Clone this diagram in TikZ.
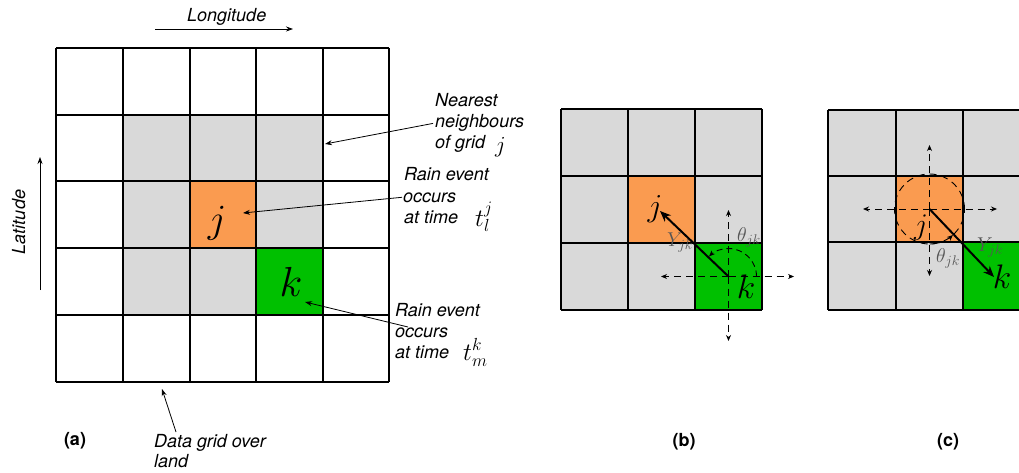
\RequirePackage{fix-cm}
\documentclass[tikz,border=0pt]{standalone}
\usepackage{fontspec}
\setsansfont{TeX Gyre Heros}
\usetikzlibrary{arrows.meta}
\definecolor{cellgray}{RGB}{217,217,217}
\definecolor{cellorange}{RGB}{250,155,80}
\definecolor{cellgreen}{RGB}{0,192,0}
\definecolor{labgray}{RGB}{85,85,85}
\tikzset{
  gridline/.style={line width=1.7pt,black},
  annot/.style={font=\sffamily\itshape\fontsize{18}{21}\selectfont,inner sep=0pt,anchor=base west},
  annotmath/.style={inner sep=0pt,anchor=base west,font=\fontsize{25}{25}\selectfont},
  pointer/.style={line width=0.8pt,-{Stealth[length=7pt,width=5pt]}},
  dasharrow/.style={line width=0.9pt,dash pattern=on 7pt off 5pt,-{Stealth[length=6pt,width=5pt]}},
  dasharc/.style={line width=0.9pt,dash pattern=on 6pt off 4pt,-{Stealth[length=6pt,width=5pt]}},
  dashcirc/.style={line width=0.9pt,dash pattern=on 7pt off 5pt},
  mainarrow/.style={line width=2pt,-{Stealth[length=11pt,width=9pt]}},
  panellabel/.style={font=\sffamily\bfseries\fontsize{18}{21}\selectfont,inner sep=0pt,anchor=base},
  cellmath/.style={inner sep=0pt},
  smallmath/.style={inner sep=0pt,text=labgray,font=\fontsize{20}{20}\selectfont},
}
\begin{document}
\begin{tikzpicture}[x=1pt,y=1pt]
\useasboundingbox (0,0) rectangle (1019,-473);

% ---------------- panel (a) ----------------
\fill[cellgray] (123,-115) rectangle (323,-315);
\fill[cellorange] (190,-181) rectangle (256,-248);
\fill[cellgreen] (256,-248) rectangle (323,-315);
\foreach \x in {56,123,190,256,323,389} \draw[gridline] (\x,-48) -- (\x,-382);
\foreach \y in {48,115,181,248,315,382} \draw[gridline] (56,-\y) -- (389,-\y);
\node[cellmath,font=\fontsize{40}{40}\selectfont] (ja) at (217,-223) {$j$};
\node[cellmath,font=\fontsize{42}{42}\selectfont] (ka) at (291,-282) {$k$};

% axes
\node[annot] (lon) at (187,-22) {Longitude};
\coordinate (lonS) at (155,-29);
\coordinate (lonE) at (293,-29);
\draw[pointer] (lonS) -- (lonE);
\node[annot,anchor=base,rotate=90] (lat) at (25,-222) {Latitude};
\coordinate (latS) at (40,-290);
\coordinate (latE) at (40,-157);
\draw[pointer] (latS) -- (latE);

% annotations
\node[annot] (nn1) at (435,-107) {Nearest};
\node[annot] (nn2) at (435,-128) {neighbours};
\node[annot] (nn3) at (435,-149) {of grid};
\node[annotmath,font=\fontsize{23}{23}\selectfont] (nnj) at (495,-153) {$j$};
\coordinate (nnT) at (325,-144);
\draw[pointer] ([xshift=-2pt]nn2.west) -- (nnT);

\node[annot] (re1) at (404,-180) {Rain event};
\node[annot] (re2) at (403,-202) {occurs};
\node[annot] (re3) at (404,-223) {at time};
\node[annotmath] (tlj) at (475,-226) {$t_l^j$};
\coordinate (reT) at (243,-213);
\draw[pointer] ([xshift=-1pt]re2.west) -- (reT);

\node[annot] (rk1) at (395,-316) {Rain event};
\node[annot] (rk2) at (395,-337) {occurs};
\node[annot] (rk3) at (395,-358) {at time};
\node[annotmath] (tmk) at (463,-360) {$t_m^k$};
\coordinate (rkS) at (408,-327);
\coordinate (rkT) at (305,-302);
\draw[pointer] (rkS) -- (rkT);

\node[annot] (dg1) at (154,-447) {Data grid over};
\node[annot] (dg2) at (154,-467) {land};
\coordinate (dgS) at (176,-432);
\coordinate (dgT) at (162,-389);
\draw[pointer] (dgS) -- (dgT);

\node[panellabel] (pa) at (75,-445) {(a)};
\node[panellabel] (pb) at (684,-446) {(b)};
\node[panellabel] (pc) at (948,-446) {(c)};

% ---------------- panel (b) ----------------
\fill[cellgray] (561,-109) rectangle (762,-310);
\fill[cellorange] (628,-176) rectangle (695,-243);
\fill[cellgreen] (695,-243) rectangle (762,-310);
\foreach \x in {561,628,695,762} \draw[gridline] (\x,-109) -- (\x,-310);
\foreach \y in {109,176,243,310} \draw[gridline] (561,-\y) -- (762,-\y);
\node[cellmath,font=\fontsize{32}{32}\selectfont] (jb) at (655,-209) {$j$};
\node[cellmath,font=\fontsize{34}{34}\selectfont] (kb) at (746,-287) {$k$};
\node[smallmath] (Yb) at (680,-243) {$Y_{jk}$};
\node[smallmath] (thb) at (749,-237) {$\theta_{jk}$};
\coordinate (kbc) at (728.5,-276.5);
\coordinate (kbL) at (661,-276.5);
\coordinate (kbR) at (794,-276.5);
\coordinate (kbU) at (728.5,-210);
\coordinate (kbD) at (728.5,-341);
\coordinate (jbT) at (660,-211);
\draw[dasharrow] (kbc) -- (kbL);
\draw[dasharrow] (kbc) -- (kbR);
\draw[dasharrow] (kbc) -- (kbU);
\draw[dasharrow] (kbc) -- (kbD);
\draw[dasharc] ([shift={(0:28)}]kbc) arc[start angle=0,end angle=134,radius=28];
\draw[mainarrow] (kbc) -- (jbT);

% ---------------- panel (c) ----------------
\fill[cellgray] (828,-110) rectangle (1019,-310);
\fill[cellorange] (896,-176) rectangle (963,-242);
\fill[cellgreen] (963,-242) rectangle (1019,-310);
\foreach \x in {828,896,963} \draw[gridline] (\x,-110) -- (\x,-310);
\foreach \y in {110,176,242,310} \draw[gridline] (828,-\y) -- (1019,-\y);
\node[cellmath,font=\fontsize{30}{30}\selectfont] (jc) at (921,-228) {$j$};
\node[cellmath,font=\fontsize{34}{34}\selectfont] (kc) at (1002,-277) {$k$};
\node[smallmath] (Yc) at (990,-248) {$Y_{jk}$};
\node[smallmath] (thc) at (948,-258) {$\theta_{jk}$};
\coordinate (jcc) at (929.5,-209);
\coordinate (jcL) at (863,-209);
\coordinate (jcR) at (997,-209);
\coordinate (jcU) at (929.5,-145);
\coordinate (jcD) at (929.5,-276);
\coordinate (kcT) at (994,-277);
\draw[dashcirc] (jcc) circle[radius=35];
\draw[dasharrow] (jcc) -- (jcL);
\draw[dasharrow] (jcc) -- (jcR);
\draw[dasharrow] (jcc) -- (jcU);
\draw[dasharrow] (jcc) -- (jcD);
\draw[dasharc] ([shift={(270:35)}]jcc) arc[start angle=270,end angle=312,radius=35];
\draw[mainarrow] (jcc) -- (kcT);
\end{tikzpicture}
\end{document}
